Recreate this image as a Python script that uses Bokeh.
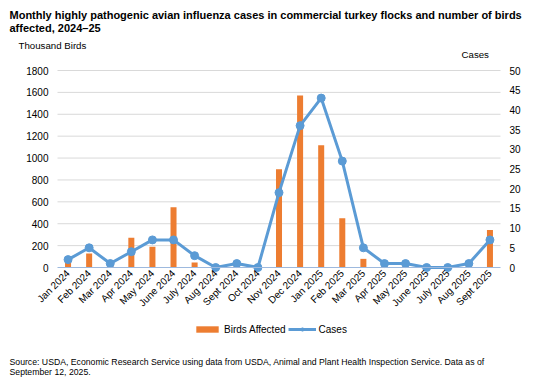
from bokeh.plotting import figure
from bokeh.models import (Range1d, LinearAxis, FixedTicker, Label,
                          Legend, LegendItem, ColumnDataSource)
from bokeh.embed import file_html
from bokeh.resources import INLINE
import math

# ---------------- data ----------------
months = ["Jan 2024", "Feb 2024", "Mar 2024", "Apr 2024", "May 2024", "June 2024",
          "July 2024", "Aug 2024", "Sept 2024", "Oct 2024", "Nov 2024", "Dec 2024",
          "Jan 2025", "Feb 2025", "Mar 2025", "Apr 2025", "May 2025", "June 2025",
          "July 2025", "Aug 2025", "Sept 2025"]
birds_affected = [51, 128, 15, 271, 189, 550, 46, 0, 35, 0, 897, 1571,
                  1117, 451, 79, 20, 20, 0, 0, 20, 342]
cases = [2, 5, 1, 4, 7, 7, 3, 0, 1, 0, 19, 36, 43, 27, 5, 1, 1, 0, 0, 1, 7]
left_ticks = [0, 200, 400, 600, 800, 1000, 1200, 1400, 1600, 1800]
right_ticks = [0, 5, 10, 15, 20, 25, 30, 35, 40, 45, 50]

title_lines = ["Monthly highly pathogenic avian influenza cases in commercial turkey flocks and number of birds",
               "affected, 2024\u201325"]
source_lines = ["Source: USDA, Economic Research Service using data from USDA, Animal and Plant Health Inspection Service. Data as of",
                "September 12, 2025."]

# ---------------- layout (canvas pixels) ----------------
W, H = 543, 379
PL, PR, PT, PB = 57, 500, 70, 267          # plotting area edges
FONT = "Liberation Sans"
ORANGE = "#ED7D31"
BLUE = "#5B9BD5"
GRID = "#D9D9D9"

n = len(months)
xs = list(range(n))
step = (PR - PL) / n
x_start = -0.5 - PL / step
x_end = (n - 0.5) + (W - PR) / step
lmax, rmax = left_ticks[-1], right_ticks[-1]
lpp = lmax / (PB - PT)
rpp = rmax / (PB - PT)

src = ColumnDataSource(dict(x=xs, month=months, birds=birds_affected, cases=cases))

p = figure(width=W, height=H, output_backend="svg", toolbar_location=None,
           x_range=Range1d(x_start, x_end),
           y_range=Range1d(-(H - PB) * lpp, lmax + PT * lpp),
           x_axis_location=None, y_axis_location=None,
           min_border=0)
p.extra_y_ranges = {"cases": Range1d(-(H - PB) * rpp, rmax + PT * rpp)}
p.outline_line_color = None
p.background_fill_color = "white"
p.border_fill_color = "white"
p.grid.visible = False

# horizontal gridlines at the left-axis ticks, spanning the plotting area
grid_src = ColumnDataSource(dict(y=left_ticks[1:]))
p.segment(x0=-0.5, x1=n - 0.5, y0="y", y1="y", source=grid_src,
          line_color=GRID, line_width=1)

bars = p.vbar(x="x", top="birds", width=0.285, source=src,
              fill_color=ORANGE, line_color=None)
line = p.line(x="x", y="cases", source=src, y_range_name="cases",
              line_color=BLUE, line_width=3)
dots = p.scatter(x="x", y="cases", source=src, y_range_name="cases",
                 size=8, fill_color=BLUE, line_color=BLUE)


def style_axis(ax, standoff):
    ax.major_tick_line_color = None
    ax.minor_tick_line_color = None
    ax.major_tick_out = 0
    ax.major_tick_in = 0
    ax.minor_tick_out = 0
    ax.minor_tick_in = 0
    ax.major_label_text_font = FONT
    ax.major_label_text_font_size = "10px"
    ax.major_label_text_color = "#000000"
    ax.major_label_standoff = standoff


yl = LinearAxis(ticker=FixedTicker(ticks=left_ticks), fixed_location=-0.5)
yl.axis_line_color = None
style_axis(yl, 9)
p.add_layout(yl, "left")

yr = LinearAxis(y_range_name="cases", ticker=FixedTicker(ticks=right_ticks),
                fixed_location=n - 0.5)
yr.axis_line_color = None
style_axis(yr, 9)
p.add_layout(yr, "right")

xa = LinearAxis(ticker=FixedTicker(ticks=xs), fixed_location=0,
                bounds=(-0.5, n - 0.5),
                major_label_overrides={i: m for i, m in enumerate(months)})
xa.axis_line_color = "#9DB9DE"
xa.axis_line_width = 1
xa.major_label_orientation = math.pi / 4
style_axis(xa, 4)
p.add_layout(xa, "below")

# legend
legend = Legend(items=[LegendItem(label="Birds Affected", renderers=[bars]),
                       LegendItem(label="Cases", renderers=[line, dots])],
                orientation="horizontal", location=(193, H - 335),
                glyph_width=28, glyph_height=8, label_standoff=3, spacing=2,
                padding=0, margin=0, border_line_color=None,
                background_fill_alpha=0,
                label_text_font=FONT, label_text_font_size="10px",
                label_text_color="#000000", label_height=12)
p.add_layout(legend)


def add_text(x, baseline, text, size, bold=False):
    p.add_layout(Label(x=x, y=H - baseline, x_units="screen", y_units="screen",
                       text=text, text_font=FONT, text_font_size=size,
                       text_font_style="bold" if bold else "normal",
                       text_color="#000000", text_align="left",
                       text_baseline="alphabetic"))


add_text(9, 14.7, title_lines[0], "11px", bold=True)
add_text(9, 27, title_lines[1], "11px", bold=True)
add_text(18, 45, "Thousand Birds", "9.7px")
add_text(461, 54.3, "Cases", "9.7px")
add_text(9, 361, source_lines[0], "8.7px")
add_text(9, 371.5, source_lines[1], "8.7px")

open("out.html", "w").write(file_html(p, INLINE))
